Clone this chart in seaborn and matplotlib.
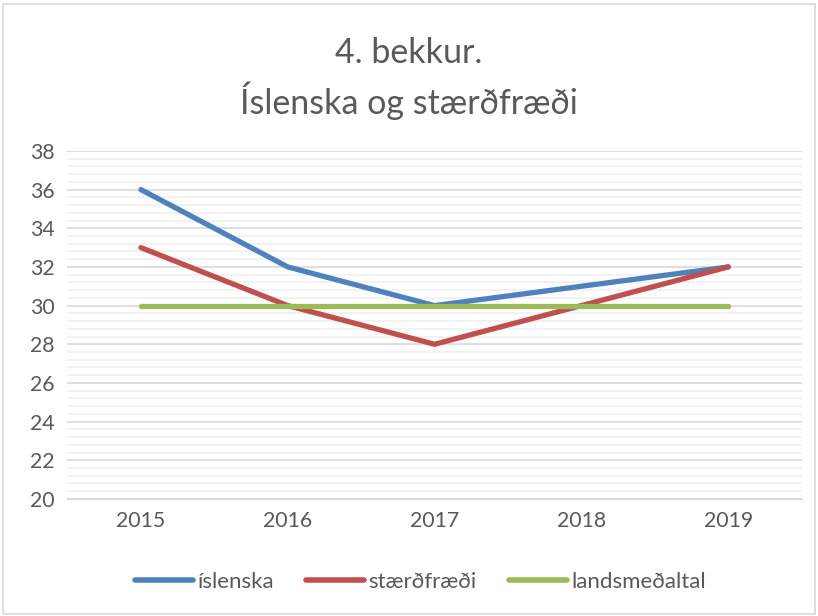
import matplotlib.pyplot as plt
import matplotlib.patches as patches
import numpy as np
import pandas as pd
import seaborn as sns

years = ['2015', '2016', '2017', '2018', '2019']
islenska = [36, 32, 30, 31, 32]
staerdfraedi = [33, 30, 28, 30, 32]
landsmedaltal = [30, 30, 30, 30, 30]
series_names = ['íslenska', 'stærðfræði', 'landsmeðaltal']
colors = ['#4F81BD', '#C0504D', '#9BBB59']

df = pd.concat([
    pd.DataFrame({'ár': years, 'einkunn': vals, 'flokkur': name})
    for name, vals in zip(series_names, [islenska, staerdfraedi, landsmedaltal])
])

sns.set_style('white')
plt.rcParams['font.family'] = ['Lato', 'DejaVu Sans']
text_color = '#595959'

fig = plt.figure(figsize=(8.18, 6.16), dpi=100)
ax = fig.add_axes([0.0825, 0.19, 0.8975, 0.565])

sns.lineplot(data=df, x='ár', y='einkunn', hue='flokkur', palette=colors,
             linewidth=3.8, ax=ax, sort=False, solid_capstyle='round')

ax.set_xlim(-0.5, 4.5)
ax.set_ylim(20, 38)
ax.set_yticks(np.arange(20, 39, 2))
ax.set_yticks(np.arange(20, 38.01, 0.4), minor=True)
ax.grid(axis='y', which='major', color='#d9d9d9', linewidth=1.2)
ax.grid(axis='y', which='minor', color='#f0f0f0', linewidth=1.2)
ax.set_axisbelow(True)
for s in ['top', 'right', 'left']:
    ax.spines[s].set_visible(False)
ax.spines['bottom'].set_color('#d9d9d9')
ax.tick_params(axis='both', which='both', length=0, labelsize=15.3,
               colors=text_color, pad=9)
ax.set_xlabel('')
ax.set_ylabel('')

fig.suptitle('4. bekkur.\nÍslenska og stærðfræði', y=0.94, fontsize=24.5,
             color=text_color, linespacing=1.4)

leg = ax.legend(loc='center', bbox_to_anchor=(0.481, -0.238), ncol=3,
                frameon=False, fontsize=16, handlelength=2.6,
                handletextpad=0.2, columnspacing=1.45, labelcolor=text_color)
for line in leg.get_lines():
    line.set_linewidth(4)
    line.set_solid_capstyle('round')

fig.patches.append(patches.Rectangle((0.004, 0.003), 0.992, 0.99,
                                     transform=fig.transFigure, fill=False,
                                     edgecolor='#d9d9d9', linewidth=1.2))

plt.savefig('out.png', dpi=100)
